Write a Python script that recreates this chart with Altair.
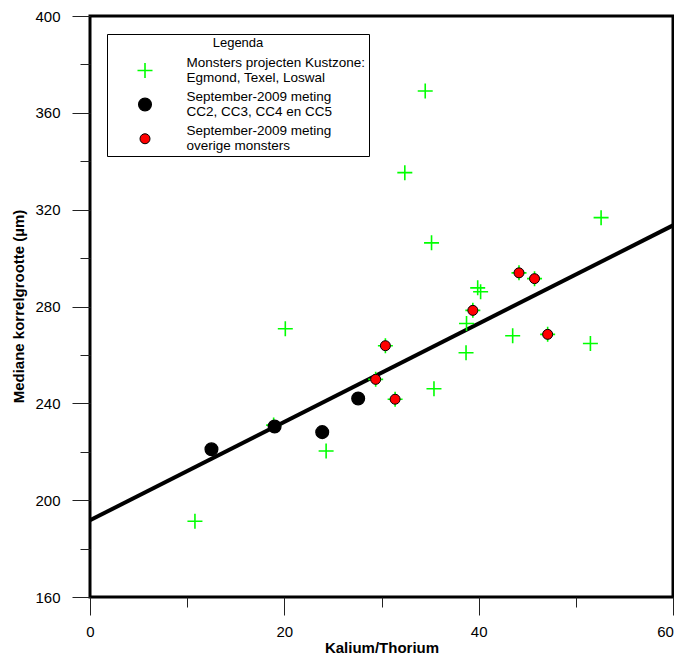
import altair as alt
import pandas as pd

# ---- data ----
kust_x = [10.8, 18.9, 20.1, 24.3, 29.4, 30.4, 31.4, 32.4, 34.5, 35.15, 35.4, 38.7, 38.75,
          39.4, 39.9, 40.2, 43.5, 44.15, 45.75, 47.1, 51.5, 52.6]
kust_y = [191.3, 231.0, 270.8, 220.3, 249.9, 263.8, 241.7, 335.3, 369.0, 306.3, 246.0, 260.9, 273.0,
          278.4, 287.7, 286.1, 267.9, 293.9, 291.5, 268.5, 264.7, 316.7]
cc_x = [12.5, 19.0, 23.9, 27.6]
cc_y = [221.0, 230.4, 228.1, 242.0]
overig_x = [29.4, 30.4, 31.4, 39.4, 44.15, 45.75, 47.1]
overig_y = [249.9, 263.8, 241.7, 278.4, 293.9, 291.5, 268.5]

series_labels = [
    "Monsters projecten Kustzone:|Egmond, Texel, Loswal",
    "September-2009 meting|CC2, CC3, CC4 en CC5",
    "September-2009 meting|overige monsters",
]

line_x = [0, 60]
line_y = [191.7, 313.5]

x_ticks = [0, 10, 20, 30, 40, 50, 60]
y_ticks = [160, 180, 200, 220, 240, 260, 280, 300, 320, 340, 360, 380, 400]

# ---- tables ----
pts = pd.DataFrame({
    "x": kust_x + cc_x + overig_x,
    "y": kust_y + cc_y + overig_y,
    "serie": [series_labels[0]] * len(kust_x) + [series_labels[1]] * len(cc_x) + [series_labels[2]] * len(overig_x),
    "ord": [0] * len(kust_x) + [1] * len(cc_x) + [2] * len(overig_x),
})
line_df = pd.DataFrame({"x": line_x, "y": line_y})

FONT = "Liberation Sans"
PLUS = "M-1,0L1,0M0,-1L0,1"

xscale = alt.Scale(domain=[0, 60], nice=False, zero=False)
yscale = alt.Scale(domain=[160, 400], nice=False, zero=False)

x_axis = alt.Axis(
    values=x_ticks,
    labelExpr="datum.value % 20 === 0 ? datum.label : ''",
    tickSize={"condition": {"test": "datum.value % 20 === 0", "value": 18}, "value": 10},
    labelOffset={"condition": {"test": "datum.value === 60", "value": -8}, "value": 0},
    labelFlush=False,
    tickColor="#222222", tickWidth=1, domain=False, grid=False,
    labelFont=FONT, labelFontSize=15, labelColor="black", labelPadding=9,
    title="Kalium/Thorium", titleFont=FONT, titleFontSize=15, titleFontWeight="bold",
    titleColor="black", titleY=50, titleBaseline="middle",
)
y_axis = alt.Axis(
    values=y_ticks,
    labelExpr="datum.value % 40 === 0 ? datum.label : ''",
    tickSize={"condition": {"test": "datum.value % 40 === 0", "value": 18}, "value": 10},
    tickColor="#222222", tickWidth=1, domain=False, grid=False,
    labelFont=FONT, labelFontSize=15, labelColor="black", labelPadding=12,
    title="Mediane korrelgrootte (µm)", titleFont=FONT, titleFontSize=15, titleFontWeight="bold",
    titleColor="black", titleX=-72, titleY=290, titleBaseline="middle", titleAlign="center", titleAngle=-90,
)

legend = alt.Legend(
    orient="none", legendX=17, legendY=18,
    title="Legenda", titleFont=FONT, titleFontSize=13, titleFontWeight="normal", titleColor="black",
    titleAnchor="middle", titlePadding=12,
    labelFont=FONT, labelFontSize=13.5, labelColor="black", labelLimit=400,
    labelExpr="split(datum.label, '|')", labelBaseline="line-bottom",
    labelOffset=33, symbolOffset=26.5, rowPadding=4,
    strokeColor="black", fillColor="white", padding=3,
)

doms = series_labels

line = alt.Chart(line_df).mark_line(color="black", strokeWidth=4, clip=True).encode(
    x=alt.X("x:Q", scale=xscale, axis=x_axis),
    y=alt.Y("y:Q", scale=yscale, axis=y_axis),
)

points = alt.Chart(pts).mark_point(opacity=1).encode(
    x=alt.X("x:Q", scale=xscale, axis=x_axis),
    y=alt.Y("y:Q", scale=yscale, axis=y_axis),
    shape=alt.Shape("serie:N", scale=alt.Scale(domain=doms, range=[PLUS, "circle", "circle"]), legend=legend),
    fill=alt.Fill("serie:N", scale=alt.Scale(domain=doms, range=["transparent", "black", "#ff0000"]), legend=legend),
    stroke=alt.Stroke("serie:N", scale=alt.Scale(domain=doms, range=["#00ff00", "black", "black"]), legend=legend),
    size=alt.Size("serie:N", scale=alt.Scale(domain=doms, range=[225, 100, 100]), legend=legend),
    strokeWidth=alt.StrokeWidth("serie:N", scale=alt.Scale(domain=doms, range=[1.6, 1, 1]), legend=legend),
    order=alt.Order("ord:Q"),
)

chart = alt.layer(line, points).properties(
    width=583, height=581,
    autosize=alt.AutoSizeParams(type="none"),
    padding={"left": 82, "top": 8, "right": 1, "bottom": 58},
    background="white",
).configure_view(stroke="black", strokeWidth=3)

chart.save("out.html", embed_options={"renderer": "svg", "actions": False})
